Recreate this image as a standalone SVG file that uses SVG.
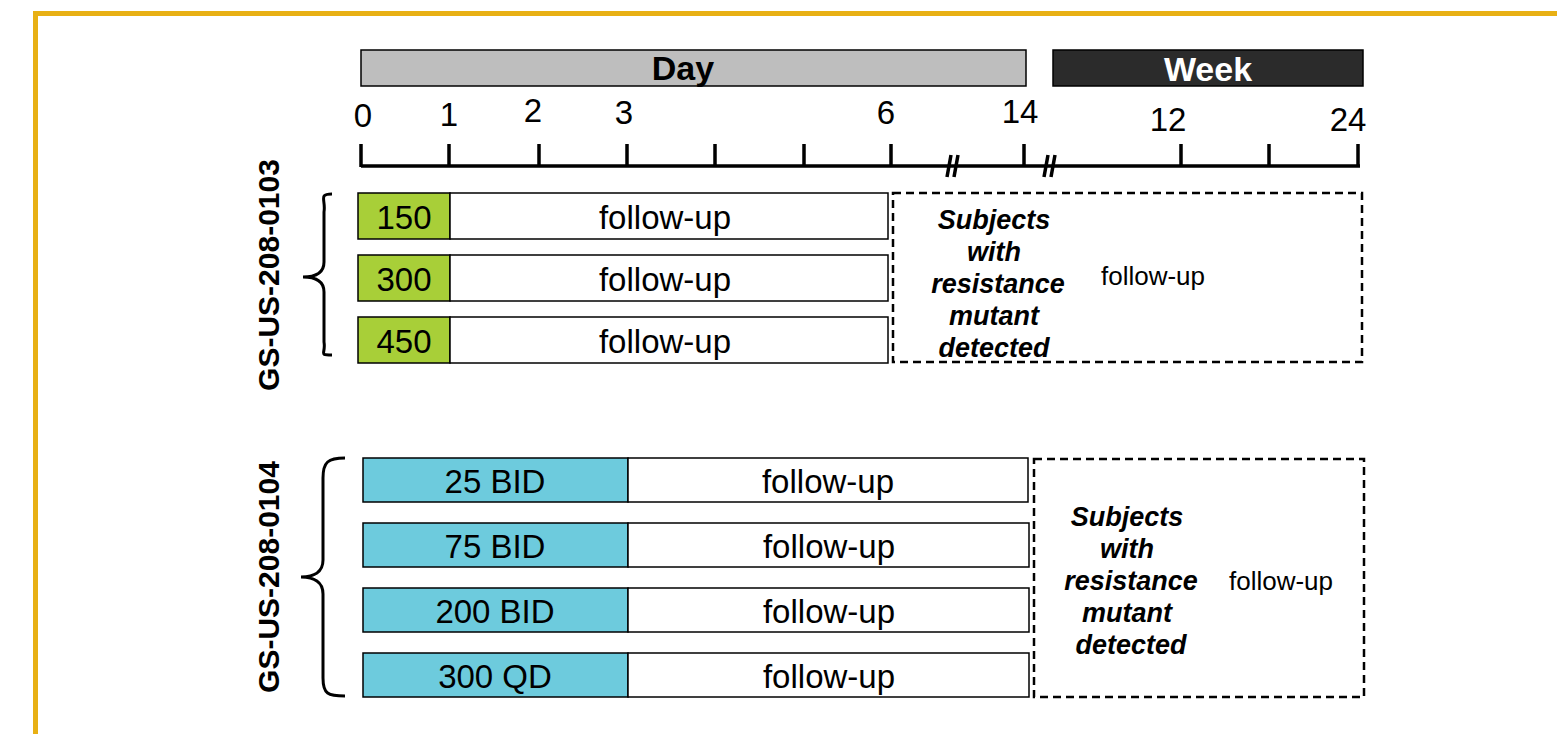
<svg xmlns="http://www.w3.org/2000/svg" width="1557" height="734" viewBox="0 0 1557 734">
<style>
text{font-family:"Liberation Sans",Arial,sans-serif;fill:#000}
.tick{font-size:33px;text-anchor:middle}
.box{stroke:#000;stroke-width:1.5}
.g{fill:#A8CF38}
.c{fill:#6DCBDD}
.w{fill:#fff}
.lbl{font-size:33px;text-anchor:middle;dominant-baseline:central}
.dash{fill:none;stroke:#000;stroke-width:2.5;stroke-dasharray:8 5}
.subj{font-size:27px;font-weight:bold;font-style:italic;text-anchor:middle}
.fu{font-size:26px;text-anchor:middle;dominant-baseline:central}
.study{font-size:30px;font-weight:bold;text-anchor:middle;dominant-baseline:central}
.axis{stroke:#000;stroke-width:3.5;fill:none}
.brace{stroke:#000;stroke-width:3;fill:none}
</style>
<rect x="0" y="0" width="1557" height="734" fill="#fff"/>
<rect x="35.5" y="13.5" width="1540" height="740" fill="none" stroke="#E8B014" stroke-width="5"/>

<g id="header">
<rect x="361" y="50" width="665" height="36" fill="#BEBEBE" stroke="#000" stroke-width="1.5"/>
<text x="683" y="80" font-size="34" font-weight="bold" text-anchor="middle">Day</text>
<rect x="1053" y="50" width="310" height="36" fill="#2B2B2B" stroke="#000" stroke-width="1.5"/>
<text x="1208" y="81" font-size="34" font-weight="bold" text-anchor="middle" style="fill:#fff">Week</text>
</g>

<g id="axis">
<path class="axis" d="M361 166H1360 M361 144V167 M449 144V167 M539 144V167 M627 144V167 M715 144V167 M804 144V167 M891 144V167 M1024 144V167 M1181 144V167 M1269 144V167 M1358 144V167"/>
<path d="M947 177L951 155 M954 177L958 155 M1044 177L1048 155 M1051 177L1055 155" stroke="#000" stroke-width="3.5" fill="none"/>
<text class="tick" x="363" y="127">0</text>
<text class="tick" x="449" y="126">1</text>
<text class="tick" x="533" y="122">2</text>
<text class="tick" x="624" y="124">3</text>
<text class="tick" x="886" y="124">6</text>
<text class="tick" x="1020" y="123">14</text>
<text class="tick" x="1168" y="131">12</text>
<text class="tick" x="1348" y="131">24</text>
</g>

<g id="study1">
<text class="study" transform="translate(268 275) rotate(-90)">GS-US-208-0103</text>
<path class="brace" d="M332 194C318 194 326 200 324 212L324 262C324 274 314 277 303 277C314 277 324 280 324 292L324 342C326 354 318 355 332 355"/>
</g>

<g id="s1-150">
<rect class="box g" x="358" y="193" width="92" height="46"/>
<rect class="box w" x="450" y="193" width="438" height="46"/>
<text class="lbl" x="404" y="217">150</text>
<text class="lbl" x="665" y="217">follow-up</text>
</g>
<g id="s1-300">
<rect class="box g" x="358" y="255" width="92" height="46"/>
<rect class="box w" x="450" y="255" width="438" height="46"/>
<text class="lbl" x="404" y="279">300</text>
<text class="lbl" x="665" y="279">follow-up</text>
</g>
<g id="s1-450">
<rect class="box g" x="358" y="317" width="92" height="46"/>
<rect class="box w" x="450" y="317" width="438" height="46"/>
<text class="lbl" x="404" y="341">450</text>
<text class="lbl" x="665" y="341">follow-up</text>
</g>
<g id="s1-resist">
<rect class="dash" x="893" y="193" width="469" height="169"/>
<text class="subj" x="994" y="229">Subjects</text>
<text class="subj" x="994" y="261">with</text>
<text class="subj" x="998" y="293">resistance</text>
<text class="subj" x="994" y="325">mutant</text>
<text class="subj" x="994" y="357">detected</text>
<text class="fu" x="1153" y="276">follow-up</text>
</g>

<g id="study2">
<text class="study" transform="translate(268 577) rotate(-90)">GS-US-208-0104</text>
<path class="brace" d="M345 458C328 458 323 462 323 478L323 560C323 572 314 577 301 577C314 577 323 582 323 594L323 678C323 694 328 696 345 696"/>
</g>

<g id="s2-25">
<rect class="box c" x="363" y="458" width="265" height="44"/>
<rect class="box w" x="628" y="458" width="400" height="44"/>
<text class="lbl" x="495" y="481">25 BID</text>
<text class="lbl" x="828" y="481">follow-up</text>
</g>
<g id="s2-75">
<rect class="box c" x="363" y="523" width="265" height="44"/>
<rect class="box w" x="628" y="523" width="401" height="44"/>
<text class="lbl" x="495" y="546">75 BID</text>
<text class="lbl" x="829" y="546">follow-up</text>
</g>
<g id="s2-200">
<rect class="box c" x="363" y="588" width="265" height="44"/>
<rect class="box w" x="628" y="588" width="401" height="44"/>
<text class="lbl" x="495" y="611">200 BID</text>
<text class="lbl" x="829" y="611">follow-up</text>
</g>
<g id="s2-300">
<rect class="box c" x="363" y="653" width="265" height="44"/>
<rect class="box w" x="628" y="653" width="401" height="44"/>
<text class="lbl" x="495" y="676">300 QD</text>
<text class="lbl" x="829" y="676">follow-up</text>
</g>
<g id="s2-resist">
<rect class="dash" x="1034" y="459" width="330" height="238"/>
<text class="subj" x="1127" y="526">Subjects</text>
<text class="subj" x="1127" y="558">with</text>
<text class="subj" x="1131" y="590">resistance</text>
<text class="subj" x="1127" y="622">mutant</text>
<text class="subj" x="1131" y="654">detected</text>
<text class="fu" x="1281" y="581">follow-up</text>
</g>
</svg>
